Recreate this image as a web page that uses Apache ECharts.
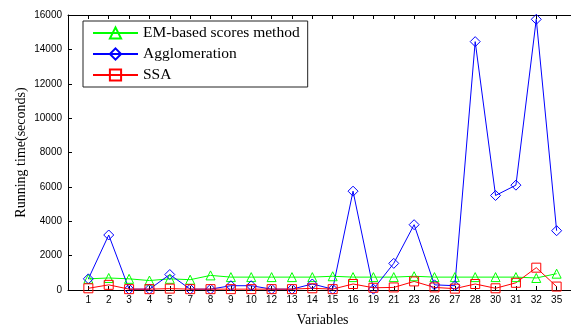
<!DOCTYPE html>
<html>
<head>
<meta charset="utf-8">
<script src="https://cdn.jsdelivr.net/npm/echarts@6/dist/echarts.min.js"></script>
<style>
  html, body { margin: 0; padding: 0; background: #fff; }
  #chart { width: 571px; height: 326px; }
</style>
</head>
<body>
<div id="chart"></div>
<script>
// variables on the x axis
var variables = ["1", "2", "3", "4", "5", "7", "8", "9", "10", "12", "13", "14",
  "15", "16", "19", "21", "23", "26", "27", "28", "30", "31", "32", "35"];

// running time in seconds
var emScores = [650, 700, 650, 550, 650, 600, 850, 750, 750, 750, 750, 750,
  800, 750, 750, 750, 800, 750, 750, 750, 750, 750, 700, 950];
var agglomeration = [650, 3200, 50, 50, 900, 50, 50, 250, 250, 50, 50, 350,
  50, 5750, 50, 1550, 3800, 300, 250, 14450, 5500, 6100, 15750, 3450];
var ssa = [100, 300, 50, 50, 80, 50, 50, 50, 50, 50, 50, 100,
  50, 350, 130, 150, 500, 150, 80, 350, 100, 420, 1300, 200];

var yTicks = [0, 2000, 4000, 6000, 8000, 10000, 12000, 14000, 16000];

function pts(arr) {
  return arr.map(function (v, i) { return [i + 1, v]; });
}

var chart = echarts.init(document.getElementById("chart"));

function lineSeries(name, data, color, symbol, size) {
  return {
    name: name,
    type: "line",
    data: pts(data),
    symbol: symbol,
    symbolSize: size,
    showAllSymbol: true,
    lineStyle: { color: color, width: 1 },
    itemStyle: { color: "rgba(0,0,0,0)", borderColor: color, borderWidth: 1 },
    emphasis: { disabled: true },
    animation: false
  };
}

var option = {
  backgroundColor: "#fff",
  grid: { left: 68, right: -6, top: 15, bottom: 36, outerBoundsMode: "none", containLabel: false },
  legend: {
    orient: "vertical",
    left: 83,
    top: 21,
    padding: [4, 8, 4, 9],
    itemWidth: 45,
    itemHeight: 14,
    itemGap: 5,
    borderColor: "#222",
    borderWidth: 1,
    backgroundColor: "#fff",
    textStyle: { fontFamily: "Liberation Serif", fontSize: 15.5, color: "#000" },
    data: ["EM-based scores method", "Agglomeration", "SSA"]
  },
  xAxis: [
    {
      type: "value",
      min: 0,
      max: variables.length + 1,
      interval: 1,
      name: "Variables",
      nameLocation: "middle",
      nameGap: 23,
      nameMoveOverlap: false,
      nameTextStyle: { fontFamily: "Liberation Serif", fontSize: 14, color: "#000" },
      axisLine: { lineStyle: { color: "#000", width: 1 } },
      axisTick: { inside: true, length: 4, lineStyle: { color: "#000" } },
      axisLabel: {
        margin: 5,
        fontFamily: "Liberation Sans",
        fontSize: 10,
        color: "#000",
        formatter: function (v) { return variables[v - 1] || ""; }
      },
      splitLine: { show: false }
    },
    {
      type: "value",
      position: "top",
      min: 0,
      max: variables.length + 1,
      interval: 1,
      axisLine: { lineStyle: { color: "#000", width: 1 } },
      axisTick: { inside: true, length: 4, lineStyle: { color: "#000" } },
      axisLabel: { show: false },
      splitLine: { show: false }
    }
  ],
  yAxis: {
    type: "value",
    min: yTicks[0],
    max: yTicks[yTicks.length - 1],
    interval: 2000,
    name: "Running time(seconds)",
    nameLocation: "middle",
    nameGap: 40,
    nameMoveOverlap: false,
    nameTextStyle: { fontFamily: "Liberation Serif", fontSize: 14, color: "#000" },
    axisLine: { show: true, lineStyle: { color: "#000", width: 1 } },
    axisTick: { show: true, inside: true, length: 4, lineStyle: { color: "#000" } },
    axisLabel: {
      margin: 6,
      fontFamily: "Liberation Sans",
      fontSize: 10,
      color: "#000",
      formatter: function (v) { return String(v); }
    },
    splitLine: { show: false }
  },
  series: [
    lineSeries("EM-based scores method", emScores, "#00ff00", "triangle", 9),
    lineSeries("Agglomeration", agglomeration, "#0000ff", "diamond", 10),
    lineSeries("SSA", ssa, "#ff0000", "rect", 9)
  ]
};

chart.setOption(option);
</script>
</body>
</html>
